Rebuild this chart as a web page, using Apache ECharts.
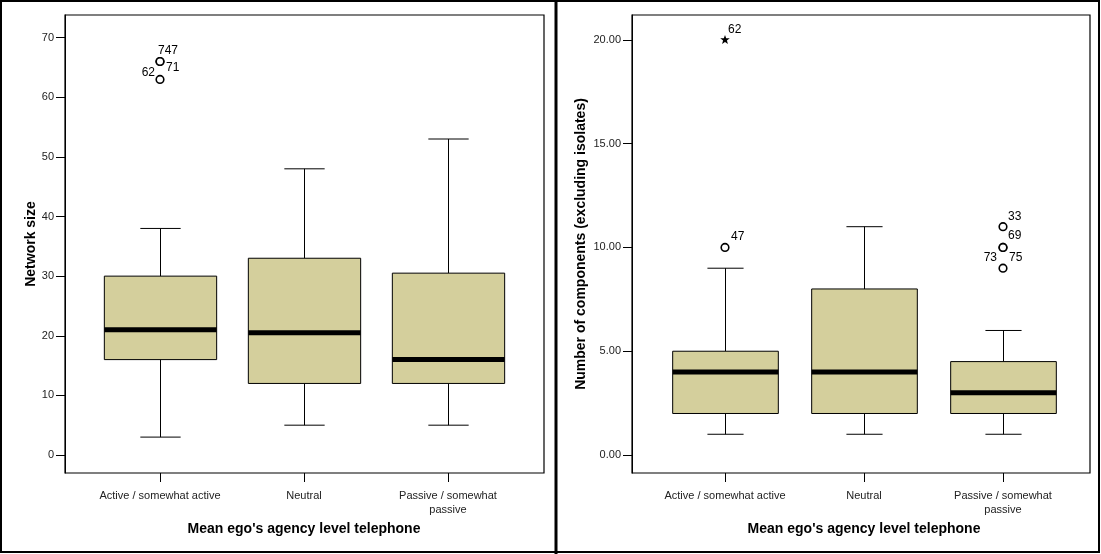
<!DOCTYPE html>
<html>
<head>
    <meta charset="utf-8">
    <title>Boxplots</title>
    <script src="https://cdn.jsdelivr.net/npm/echarts@6/dist/echarts.min.js"></script>
    <style>
        body { margin: 0; background: #fff; }
    </style>
</head>
<body>
    <div id="main" style="width: 1101px;height:554px;"></div>
    <script type="text/javascript">
        var categories = ['Active / somewhat active', 'Neutral', 'Passive / somewhat\npassive'];

        // [low whisker, Q1, median, Q3, high whisker]
        var networkSize = [
            [3, 16, 21, 30, 38],
            [5, 12, 20.5, 33, 48],
            [5, 12, 16, 30.5, 53]
        ];
        var components = [
            [1, 2, 4, 5, 9],
            [1, 2, 4, 8, 11],
            [1, 2, 3, 4.5, 6]
        ];

        // [category index, value]
        var networkOutliers = [[0, 66], [0, 66], [0, 63]];
        var networkOutlierLabels = ['747', '71', '62'];
        var componentOutliers = [[0, 10], [2, 11], [2, 10], [2, 10], [2, 9]];
        var componentOutlierLabels = ['47', '33', '69', '75', '73'];
        var componentExtremes = [[0, 20]];
        var componentExtremeLabels = ['62'];

        var networkTicks = [0, 10, 20, 30, 40, 50, 60, 70];
        var componentTicks = [0, 5, 10, 15, 20];

        // label placement next to the point: [dx, dy, align]
        var networkLabelPos = [[-2, -11, 'left'], [6, 6, 'left'], [-5, -7, 'right']];
        var componentLabelPos = [[6, -11, 'left'], [5, -10, 'left'], [5, -12, 'left'], [6, 10, 'left'], [-6, -11, 'right']];
        var extremeLabelPos = [[3, -10, 'left']];

        var FONT = '"Liberation Sans", Arial, sans-serif';
        var BOX_FILL = '#d4cf9c';

        var myChart = echarts.init(document.getElementById('main'));

        function boxRenderer(boxRatio, capRatio) {
            return function (params, api) {
                var x = api.value(0);
                var low = api.coord([x, api.value(1)]);
                var q1 = api.coord([x, api.value(2)]);
                var med = api.coord([x, api.value(3)]);
                var q3 = api.coord([x, api.value(4)]);
                var high = api.coord([x, api.value(5)]);
                var band = api.size([1, 0])[0];
                var bw = band * boxRatio, cw = band * capRatio;
                var cx = Math.round(low[0]) + 0.5;
                var ln = {stroke: '#000', lineWidth: 1};
                return {
                    type: 'group',
                    children: [
                        {type: 'line', shape: {x1: cx, y1: high[1], x2: cx, y2: q3[1]}, style: ln},
                        {type: 'line', shape: {x1: cx, y1: q1[1], x2: cx, y2: low[1]}, style: ln},
                        {type: 'line', shape: {x1: cx - cw / 2, y1: high[1], x2: cx + cw / 2, y2: high[1]}, style: ln},
                        {type: 'line', shape: {x1: cx - cw / 2, y1: low[1], x2: cx + cw / 2, y2: low[1]}, style: ln},
                        {type: 'rect', shape: {x: cx - bw / 2, y: q3[1], width: bw, height: q1[1] - q3[1]},
                            style: {fill: BOX_FILL, stroke: '#000', lineWidth: 1}},
                        {type: 'line', shape: {x1: cx - bw / 2, y1: med[1], x2: cx + bw / 2, y2: med[1]},
                            style: {stroke: '#000', lineWidth: 5}}
                    ]
                };
            };
        }

        function pointRenderer(labels, pos, star) {
            return function (params, api) {
                var p = api.coord([api.value(0), api.value(1)]);
                var i = params.dataIndex;
                var mark;
                if (star) {
                    var pts = [];
                    for (var k = 0; k < 10; k++) {
                        var r = k % 2 === 0 ? 5 : 2;
                        var a = -Math.PI / 2 + k * Math.PI / 5;
                        pts.push([p[0] + r * Math.cos(a), p[1] + r * Math.sin(a)]);
                    }
                    mark = {type: 'polygon', shape: {points: pts}, style: {fill: '#000'}};
                } else {
                    mark = {type: 'circle', shape: {cx: p[0], cy: p[1], r: 3.8},
                        style: {fill: '#fff', stroke: '#000', lineWidth: 1.6}};
                }
                return {
                    type: 'group',
                    children: [
                        mark,
                        {type: 'text', x: p[0] + pos[i][0], y: p[1] + pos[i][1],
                            style: {text: labels[i], fill: '#000', font: '12px ' + FONT,
                                textAlign: pos[i][2], textVerticalAlign: 'middle'}}
                    ]
                };
            };
        }

        function withIndex(rows) {
            return rows.map(function (r, i) { return [i].concat(r); });
        }

        function frameY(gridIndex, min, max, ticks, fmt, name, gap) {
            return {
                type: 'value', gridIndex: gridIndex, min: min, max: max,
                name: name, nameLocation: 'middle', nameGap: gap,
                nameTextStyle: {fontFamily: FONT, fontSize: 14, fontWeight: 'bold', color: '#000'},
                axisLine: {show: true, onZero: false, lineStyle: {color: '#000'}},
                axisTick: {show: true, inside: false, length: 9, customValues: ticks, lineStyle: {color: '#000'}},
                axisLabel: {customValues: ticks, formatter: fmt, margin: 11,
                    fontFamily: FONT, fontSize: 11, color: '#222'},
                splitLine: {show: false}
            };
        }

        function innerX(gridIndex) {
            return {
                type: 'category', gridIndex: gridIndex, data: categories,
                name: "Mean ego's agency level telephone", nameLocation: 'middle', nameGap: 40,
                nameTextStyle: {fontFamily: FONT, fontSize: 14, fontWeight: 'bold', color: '#000'},
                axisLine: {show: false, onZero: false},
                axisTick: {show: true, inside: false, alignWithLabel: true, length: 9, lineStyle: {color: '#000'}},
                axisLabel: {interval: 0, margin: 16, fontFamily: FONT, fontSize: 11, color: '#222', lineHeight: 14},
                splitLine: {show: false}
            };
        }

        var frameStyle = {show: true, borderColor: '#000', borderWidth: 1.2, backgroundColor: 'transparent'};

        var option = {
            animation: false,
            grid: [
                Object.assign({left: 65, right: 557, top: 15, bottom: 81}, frameStyle),
                {left: 88, right: 581, top: 15, bottom: 81},
                Object.assign({left: 632, right: 11, top: 15, bottom: 81}, frameStyle),
                {left: 655.5, right: 28.5, top: 15, bottom: 81}
            ],
            xAxis: [
                {type: 'value', gridIndex: 0, show: false, min: 0, max: 1},
                innerX(1),
                {type: 'value', gridIndex: 2, show: false, min: 0, max: 1},
                innerX(3)
            ],
            yAxis: [
                frameY(0, -3.02, 73.8, networkTicks, function (v) { return String(v); }, 'Network size', 26),
                {type: 'value', gridIndex: 1, min: -3.02, max: 73.8, show: false},
                frameY(2, -0.867, 21.2, componentTicks, function (v) { return v.toFixed(2); },
                    'Number of components (excluding isolates)', 44),
                {type: 'value', gridIndex: 3, min: -0.867, max: 21.2, show: false}
            ],
            graphic: [
                {type: 'rect', shape: {x: 1, y: 1, width: 1098, height: 551},
                    style: {fill: 'none', stroke: '#000', lineWidth: 2}},
                {type: 'line', shape: {x1: 556, y1: 0, x2: 556, y2: 554},
                    style: {stroke: '#000', lineWidth: 3}}
            ],
            series: [
                {type: 'custom', xAxisIndex: 1, yAxisIndex: 1, renderItem: boxRenderer(0.78, 0.28),
                    encode: {x: 0, y: [1, 2, 3, 4, 5]}, data: withIndex(networkSize)},
                {type: 'custom', xAxisIndex: 1, yAxisIndex: 1,
                    renderItem: pointRenderer(networkOutlierLabels, networkLabelPos, false),
                    encode: {x: 0, y: 1}, data: networkOutliers},
                {type: 'custom', xAxisIndex: 3, yAxisIndex: 3, renderItem: boxRenderer(0.76, 0.26),
                    encode: {x: 0, y: [1, 2, 3, 4, 5]}, data: withIndex(components)},
                {type: 'custom', xAxisIndex: 3, yAxisIndex: 3,
                    renderItem: pointRenderer(componentOutlierLabels, componentLabelPos, false),
                    encode: {x: 0, y: 1}, data: componentOutliers},
                {type: 'custom', xAxisIndex: 3, yAxisIndex: 3,
                    renderItem: pointRenderer(componentExtremeLabels, extremeLabelPos, true),
                    encode: {x: 0, y: 1}, data: componentExtremes}
            ]
        };

        myChart.setOption(option);
    </script>
</body>
</html>
